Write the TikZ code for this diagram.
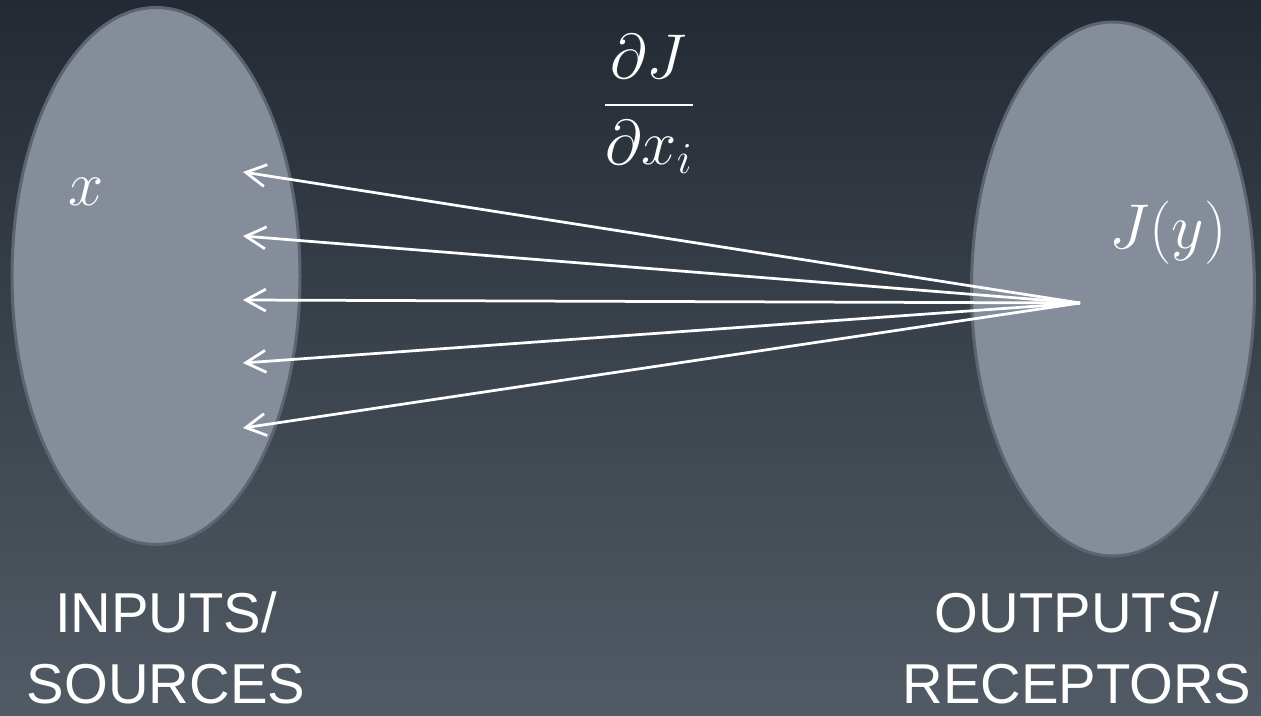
\RequirePackage{fix-cm}
\documentclass[tikz,border=0pt]{standalone}
\usepackage{amsmath}
\usepackage{fontspec}
\setmainfont{Liberation Sans}
\usepackage{tikz}
\usetikzlibrary{arrows.meta, shapes.geometric}
\definecolor{bgTop}{RGB}{35,42,51}
\definecolor{bgMid}{RGB}{44,51,60}
\definecolor{bgBot}{RGB}{82,91,101}
\definecolor{blobFill}{RGB}{133,141,154}
\definecolor{blobEdge}{RGB}{92,100,112}

\begin{document}
\begin{tikzpicture}[
    x=0.2mm, y=-0.2mm,
    blob/.style={ellipse, draw=blobEdge, line width=0.6mm, fill=blobFill, inner sep=0pt},
    lbl/.style={text=white, align=center, inner sep=0pt, font=\fontsize{32}{40}\selectfont},
    sym/.style={text=white, inner sep=0pt, font=\fontsize{36}{43}\selectfont},
    grad/.style={-{Straight Barb[length=4mm, width=4.4mm]}, line width=0.55mm, draw=white}
  ]
    \useasboundingbox (0,0) rectangle (1261,715);
    \shade[top color=bgTop, middle color=bgMid, bottom color=bgBot] (0,0) rectangle (1261,715);

    \node[blob, minimum width=57.6mm, minimum height=107.4mm] (src) at (156,276) {};
    \node[blob, minimum width=56.6mm, minimum height=106.8mm] (rec) at (1113,289) {};

    \node[sym, anchor=base] (xin) at (86,205) {$x$};
    \node[sym, anchor=base] (jout) at (1168,248) {$J(y)$};
    \node[sym] (dJdx) at (649,104) {$\dfrac{\partial J}{\partial x_i}$};

    \coordinate (hub) at (1080,303);
    \coordinate (t1) at (243,172);
    \coordinate (t2) at (243,236);
    \coordinate (t3) at (243,300);
    \coordinate (t4) at (243,363);
    \coordinate (t5) at (243,428);

    \draw[grad] (hub) -- (t1);
    \draw[grad] (hub) -- (t2);
    \draw[grad] (hub) -- (t3);
    \draw[grad] (hub) -- (t4);
    \draw[grad] (hub) -- (t5);

    \node[lbl, anchor=base] (inl) at (166,703) {INPUTS/\\SOURCES};
    \node[lbl, anchor=base] (outl) at (1077,703) {OUTPUTS/\\RECEPTORS};
  \end{tikzpicture}
\end{document}
